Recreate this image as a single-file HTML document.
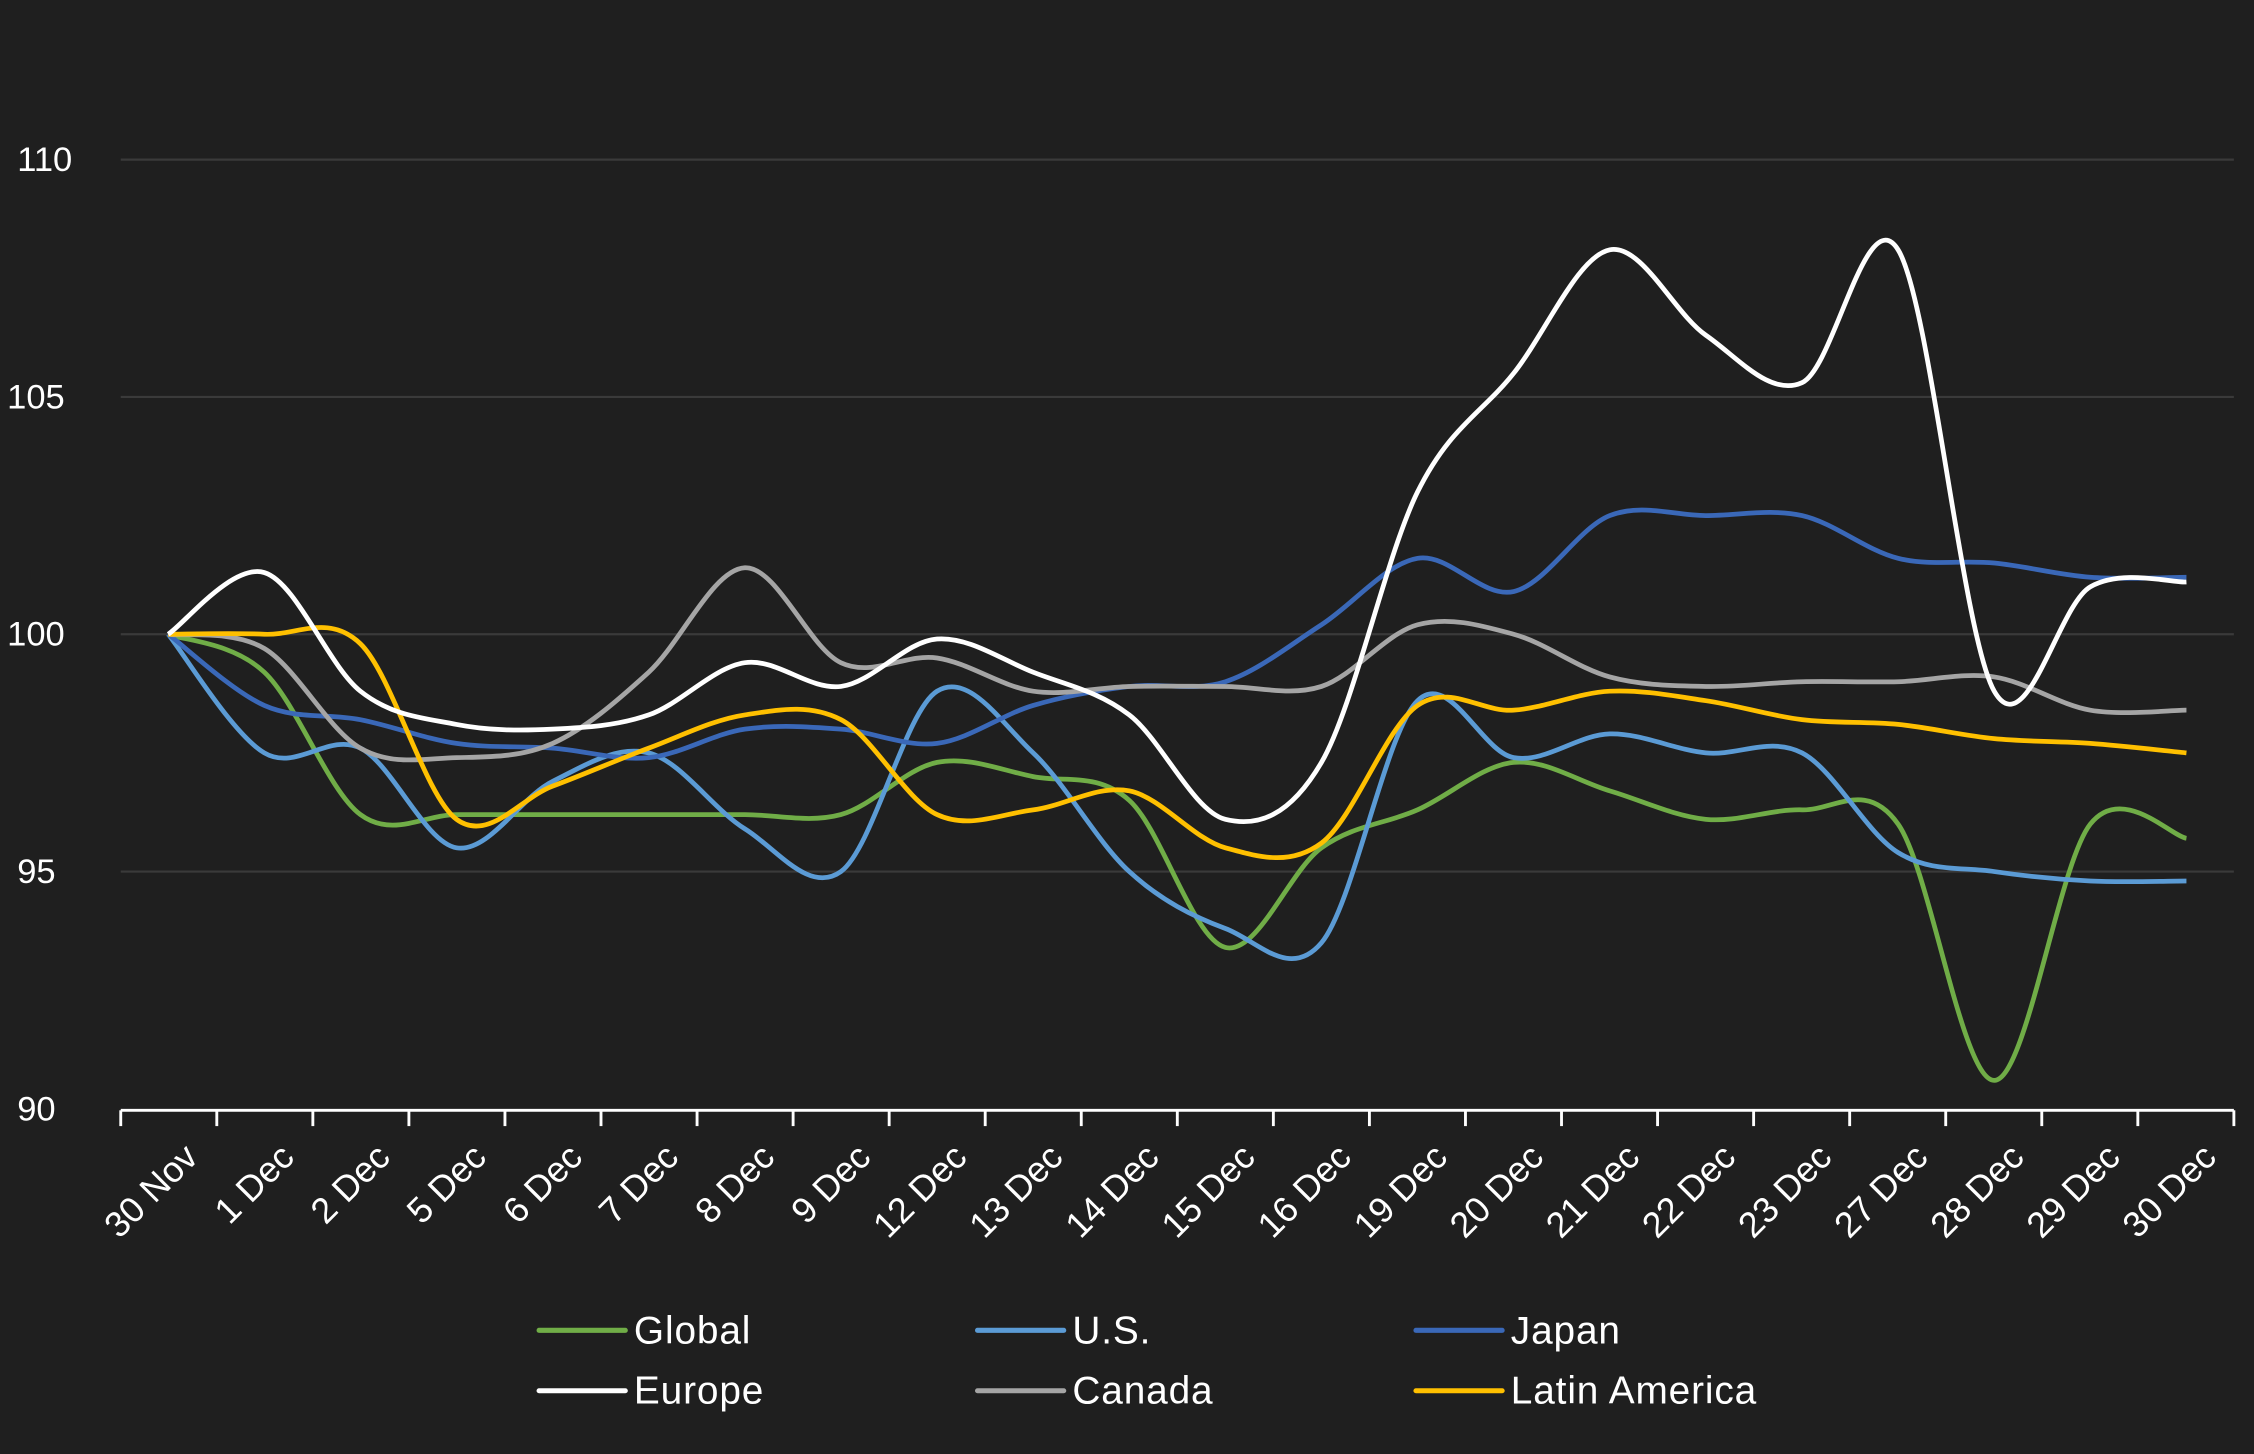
<!DOCTYPE html>
<html><head><meta charset="utf-8"><style>
html,body{margin:0;padding:0;background:#1f1f1f;}
svg{display:block;}
text{font-family:"Liberation Sans",sans-serif;fill:#fff;}
</style></head><body>
<svg id="c" width="2254" height="1454" viewBox="0 0 1568 1011" preserveAspectRatio="none">
<rect width="1568" height="1011" fill="#1f1f1f"/>
<g stroke="#3a3a3a" stroke-width="1.5">
<line x1="84" x2="1554" y1="111" y2="111"/>
<line x1="84" x2="1554" y1="276" y2="276"/>
<line x1="84" x2="1554" y1="441" y2="441"/>
<line x1="84" x2="1554" y1="606" y2="606"/>
</g>
<g font-size="24">
<text x="12" y="119">110</text>
<text x="5" y="284">105</text>
<text x="5" y="449">100</text>
<text x="12" y="614">95</text>
<text x="12" y="779">90</text>
</g>
<g id="series"></g>
<line x1="84" x2="1554" y1="772" y2="772" stroke="#fff" stroke-width="2"/>
<g id="ticks" stroke="#fff" stroke-width="2"></g>
<g id="xl" font-size="25"></g>
<g stroke-width="3.5" stroke-linecap="round">
<line x1="375" x2="435" y1="925" y2="925" stroke="#70ad47"/>
<line x1="680" x2="740" y1="925" y2="925" stroke="#5b9bd5"/>
<line x1="985" x2="1045" y1="925" y2="925" stroke="#3a68b8"/>
<line x1="375" x2="435" y1="967" y2="967" stroke="#fff"/>
<line x1="680" x2="740" y1="967" y2="967" stroke="#a5a5a5"/>
<line x1="985" x2="1045" y1="967" y2="967" stroke="#ffc000"/>
</g>
<g font-size="27" letter-spacing="0.6">
<text x="441" y="934">Global</text>
<text x="746" y="934">U.S.</text>
<text x="1051" y="934">Japan</text>
<text x="441" y="976">Europe</text>
<text x="746" y="976">Canada</text>
<text x="1051" y="976">Latin America</text>
</g>
</svg>
<script>
var labels=["30 Nov","1 Dec","2 Dec","5 Dec","6 Dec","7 Dec","8 Dec","9 Dec","12 Dec","13 Dec","14 Dec","15 Dec","16 Dec","19 Dec","20 Dec","21 Dec","22 Dec","23 Dec","27 Dec","28 Dec","29 Dec","30 Dec"];
var N=labels.length, x0=117, x1=1521, dx=(x1-x0)/(N-1);
function X(i){return x0+i*dx;} function Y(v){return 441-(v-100)*33;}
var data=[
["#70ad47",[100,99.2,96.2,96.2,96.2,96.2,96.2,96.2,97.3,97,96.5,93.4,95.5,96.3,97.3,96.7,96.1,96.3,96,90.6,96,95.7]],
["#5b9bd5",[100,97.5,97.6,95.5,96.9,97.5,95.9,95,98.8,97.5,95,93.8,93.5,98.6,97.4,97.9,97.5,97.5,95.4,95,94.8,94.8]],
["#3a68b8",[100,98.5,98.2,97.7,97.6,97.4,98.0,98.0,97.7,98.5,98.9,99.0,100.2,101.6,100.9,102.5,102.5,102.5,101.6,101.5,101.2,101.2]],
["#a5a5a5",[100,99.7,97.6,97.4,97.7,99.2,101.4,99.4,99.5,98.8,98.9,98.9,98.9,100.2,100,99.1,98.9,99.0,99.0,99.1,98.4,98.4]],
["#ffc000",[100,100,99.8,96.1,96.8,97.6,98.3,98.2,96.2,96.3,96.7,95.5,95.6,98.5,98.4,98.8,98.6,98.2,98.1,97.8,97.7,97.5]],
["#ffffff",[100,101.3,98.8,98.1,98.0,98.3,99.4,98.9,99.9,99.2,98.3,96.1,97.3,103,105.5,108.1,106.3,105.3,108.1,98.8,101,101.1]]
];
var ns="http://www.w3.org/2000/svg",g=document.getElementById("series");
data.forEach(function(s){
 var p=s[1].map(function(v,i){return [X(i),Y(v)];});
 var d="M"+p[0][0]+","+p[0][1];
 for(var i=0;i<p.length-1;i++){
  var a=p[Math.max(0,i-1)],b=p[i],c=p[i+1],e=p[Math.min(p.length-1,i+2)],t=6;
  d+=" C"+(b[0]+(c[0]-a[0])/t)+","+(b[1]+(c[1]-a[1])/t)+" "+(c[0]-(e[0]-b[0])/t)+","+(c[1]-(e[1]-b[1])/t)+" "+c[0]+","+c[1];
 }
 var el=document.createElementNS(ns,"path");
 el.setAttribute("d",d);el.setAttribute("fill","none");el.setAttribute("stroke",s[0]);el.setAttribute("stroke-width","3.3");
 g.appendChild(el);
});
var tk=document.getElementById("ticks"),xl=document.getElementById("xl");
for(var i=0;i<=N;i++){var x=84+i*(1470/N);var l=document.createElementNS(ns,"line");
 l.setAttribute("x1",x);l.setAttribute("x2",x);l.setAttribute("y1",772);l.setAttribute("y2",783);tk.appendChild(l);}
labels.forEach(function(s,i){var t=document.createElementNS(ns,"text");var x=X(i)+22,y=806;
 t.setAttribute("x",x);t.setAttribute("y",y);t.setAttribute("text-anchor","end");
 t.setAttribute("transform","rotate(-45 "+x+" "+y+")");t.textContent=s;xl.appendChild(t);});
</script>
</body></html>
